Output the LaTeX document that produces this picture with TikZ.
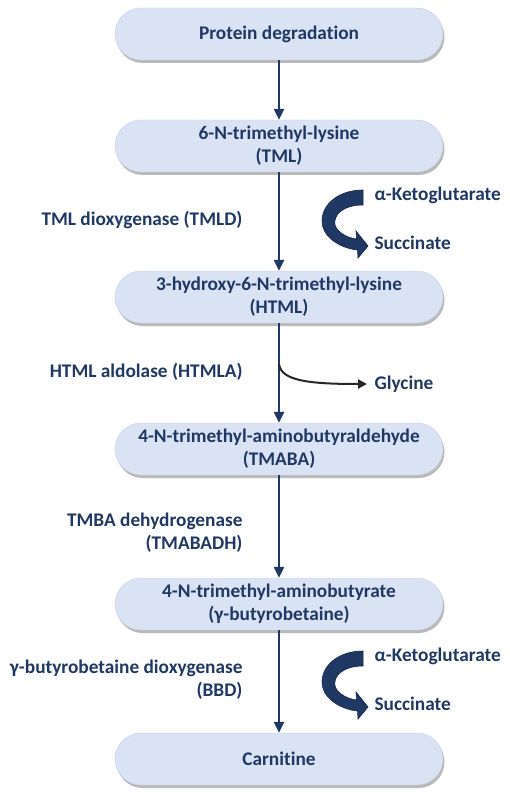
\documentclass[tikz,border=0pt]{standalone}
\usepackage{fontspec}
\setmainfont[Ligatures=NoCommon]{Carlito}
\usetikzlibrary{arrows.meta, shapes, positioning, calc, shadows}
\definecolor{navy}{HTML}{1F3864}
\definecolor{pale}{HTML}{DAE3F3}
\definecolor{paleedge}{HTML}{C3D1EA}
\definecolor{glyline}{HTML}{262626}

\tikzset{
  metab/.style={rounded corners=26pt, fill=pale, draw=paleedge, thin,
    minimum width=328pt, minimum height=52pt, align=center,
    font=\fontsize{19.3}{23}\selectfont\bfseries, text=navy,
    drop shadow={shadow xshift=1.5pt, shadow yshift=-3pt, fill=black!50, opacity=0.55}},
  enz/.style={anchor=east, align=right, text=navy,
    font=\fontsize{19.3}{23}\selectfont\bfseries},
  cof/.style={anchor=west, text=navy, font=\fontsize{19.3}{23}\selectfont\bfseries},
  flow/.style={-{Triangle[width=10pt,length=11pt]}, line width=2.3pt, draw=navy},
  bend/.pic={
    \filldraw[fill=navy, draw=navy!70!black, line width=0.6pt]
      (0,0) -- (0,15)
      .. controls (-20,15) and (-30,25) .. (-28,35)
      .. controls (-26,42) and (-16,48) .. (-6.5,49)
      -- (-7,41) -- (5,56) -- (-5,68) -- (-5.5,60)
      .. controls (-25,58) and (-42,45) .. (-41,30)
      .. controls (-40,12) and (-22,0) .. (0,0) -- cycle;
  }
}

\begin{document}
\begin{tikzpicture}[x=1pt, y=-1pt]
  \useasboundingbox (0,0) rectangle (510,799);

  % Metabolites
  \node[metab] (prot)  at (279,34)  {Protein degradation};
  \node[metab] (tml)   at (279,146) {6-N-trimethyl-lysine\\(TML)};
  \node[metab] (html)  at (279,297) {3-hydroxy-6-N-trimethyl-lysine\\(HTML)};
  \node[metab] (tmaba) at (279,449) {4-N-trimethyl-aminobutyraldehyde\\(TMABA)};
  \node[metab] (gbb)   at (279,604) {4-N-trimethyl-aminobutyrate\\(γ-butyrobetaine)};
  \node[metab] (carn)  at (279,759) {Carnitine};

  % Enzymes
  \node[enz] (tmld)    at (246,220) {TML dioxygenase (TMLD)};
  \node[enz] (htmla)   at (246,372) {HTML aldolase (HTMLA)};
  \node[enz] (tmabadh) at (246,533) {TMBA dehydrogenase\\(TMABADH)};
  \node[enz] (bbd)     at (246,680) {γ-butyrobetaine dioxygenase\\(BBD)};

  % Main path
  \draw[flow] (prot) -- (tml);
  \draw[flow] (tml) -- (html);
  \draw[flow] (html) -- (tmaba);
  \draw[flow] (tmaba) -- (gbb);
  \draw[flow] (gbb) -- (carn);

  % Cofactors
  \pic at (363,190) {bend};
  \node[cof] (akg1) at (371,195) {α-Ketoglutarate};
  \node[cof] (suc1) at (371,243) {Succinate};
  \pic at (363,651) {bend};
  \node[cof] (akg2) at (371,656) {α-Ketoglutarate};
  \node[cof] (suc2) at (371,704) {Succinate};

  % Glycine
  \node[cof] (gly) at (371,384) {Glycine};
  \coordinate (split) at (279,364);
  \draw[-{Triangle[width=9pt,length=9pt]}, line width=2pt, draw=glyline, shorten >=4pt]
    (split) .. controls (281,381) and (310,384) .. (gly.west);
\end{tikzpicture}
\end{document}
